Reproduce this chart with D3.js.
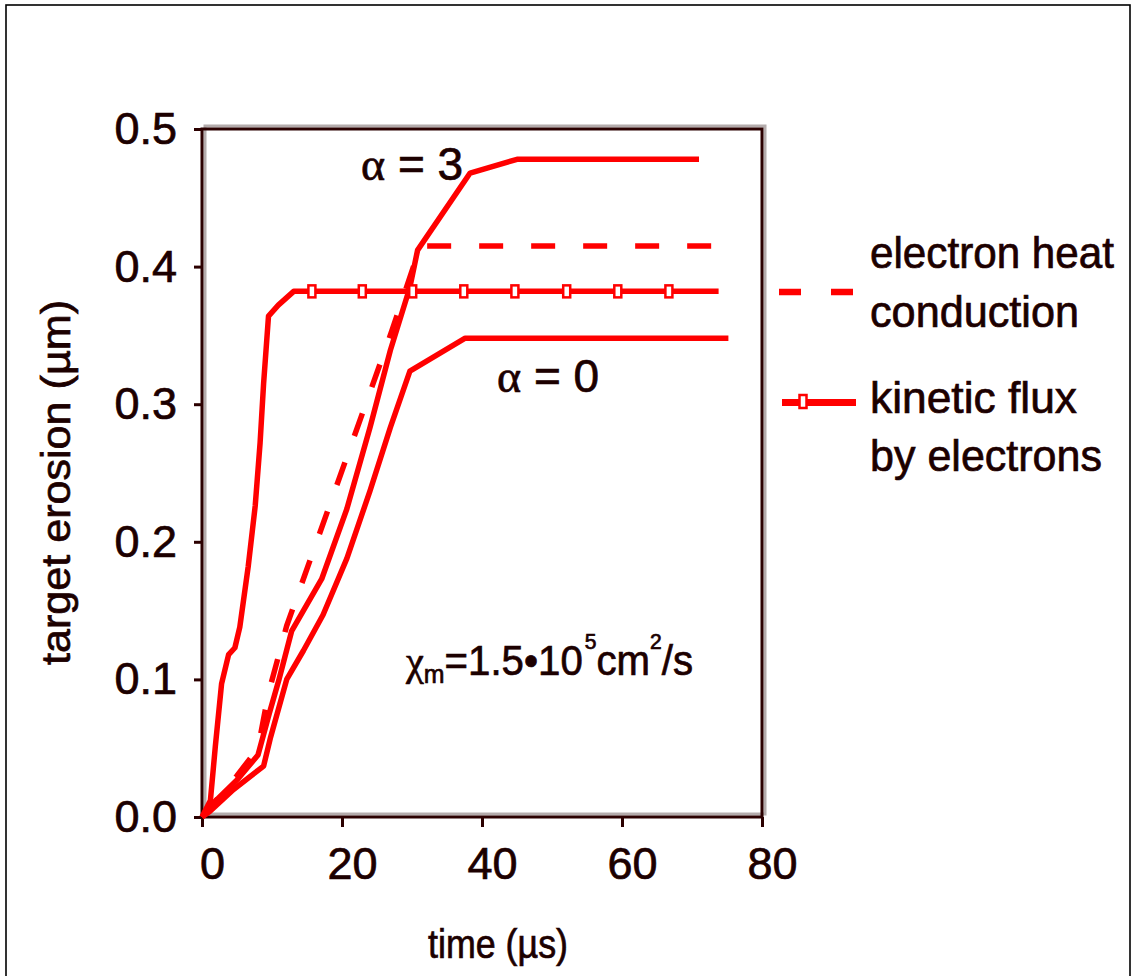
<!DOCTYPE html>
<html>
<head>
<meta charset="utf-8">
<script src="https://cdn.jsdelivr.net/npm/d3@7"></script>
<style>
  body { margin: 0; background: #fff; }
  svg { display: block; }
  text { stroke: #1c0000; stroke-width: 0.7px; }
</style>
</head>
<body>
<svg width="1134" height="976"></svg>
<script>
// Axis ticks
const timeTicks = [0, 20, 40, 60, 80];
const erosionTicks = [0, 0.1, 0.2, 0.3, 0.4, 0.5];

// Curves as [time (us), target erosion (um)]
const alpha3 = [[0, 0], [2, 0.012], [5, 0.027], [8, 0.045], [9.6, 0.075], [11, 0.1], [12.8, 0.135],
                [17.1, 0.173], [20.7, 0.224], [24, 0.283], [26.9, 0.339], [29.7, 0.385], [30.8, 0.412],
                [38.3, 0.468], [45, 0.478], [71, 0.478]];
const alpha0 = [[0, 0], [1.1, 0.004], [4.5, 0.02], [8.8, 0.037], [9.8, 0.058], [12.1, 0.1], [14.5, 0.121],
                [17.3, 0.147], [20.7, 0.188], [24, 0.237], [26.9, 0.283], [29.7, 0.324], [37.6, 0.348],
                [75.2, 0.348]];
const heatConduction = [[0, 0], [2, 0.012], [5, 0.03], [8, 0.05], [9.5, 0.09], [12.1, 0.139], [27.1, 0.353],
                        [31.2, 0.415], [74.7, 0.415]];
const kineticFlux = [[0, 0], [1.2, 0.012], [1.9, 0.051], [2.8, 0.097], [3.8, 0.118], [4.7, 0.123], [5.4, 0.138],
                     [6.6, 0.182], [7.6, 0.226], [8.3, 0.272], [8.8, 0.315], [9.5, 0.364], [10.9, 0.372],
                     [13.1, 0.382], [15.7, 0.382], [22.9, 0.382], [30.1, 0.382], [37.4, 0.382], [44.7, 0.382],
                     [52.1, 0.382], [59.4, 0.382], [66.7, 0.382], [73.8, 0.382]];

// SVG plotting related variables.
const svg = d3.select("svg");
const width = +svg.attr("width");
const height = +svg.attr("height");
const margin = { top: 129, right: 372, bottom: 159, left: 202 };
const plotWidth = width - margin.left - margin.right;
const plotHeight = height - margin.top - margin.bottom;

const red = "#ff0000";
const dark = "#2b0000";
const ink = "#1c0000";
const sans = "'Liberation Sans', Arial, sans-serif";
const serif = "'Liberation Serif', 'Times New Roman', serif";

svg.append("rect").attr("width", width).attr("height", height).attr("fill", "#fff");

// Outer picture border
svg.append("rect")
   .attr("x", 6).attr("y", 5)
   .attr("width", 1124).attr("height", 1000)
   .attr("fill", "none")
   .attr("stroke", "#000")
   .attr("stroke-width", 1.6);

const g = svg.append("g").attr("transform", `translate(${margin.left},${margin.top})`);

// Scales
const xScale = d3.scaleLinear().domain([0, 80]).range([0, plotWidth]);
const yScale = d3.scaleLinear().domain([0, 0.5]).range([plotHeight, 0]);

// Plot frame with its grey shadow
g.append("rect")
 .attr("x", 3).attr("y", -3)
 .attr("width", plotWidth).attr("height", plotHeight)
 .attr("fill", "none")
 .attr("stroke", "#b4acac")
 .attr("stroke-width", 3);
g.append("rect")
 .attr("width", plotWidth).attr("height", plotHeight)
 .attr("fill", "none")
 .attr("stroke", dark)
 .attr("stroke-width", 3);

// X Axis
const xAxis = g.append("g")
               .attr("transform", `translate(0, ${plotHeight})`)
               .call(d3.axisBottom(xScale).tickValues(timeTicks).tickSizeInner(10).tickSizeOuter(0).tickPadding(20)
                       .tickFormat(d3.format("d")));
xAxis.select(".domain").remove();
xAxis.selectAll("line").attr("stroke", dark).attr("stroke-width", 3);
xAxis.selectAll("text")
     .attr("x", 10)
     .style("font-size", "45px")
     .style("font-family", sans)
     .attr("fill", ink);

// Y Axis
const yAxis = g.append("g")
               .call(d3.axisLeft(yScale).tickValues(erosionTicks).tickSizeInner(8).tickSizeOuter(0).tickPadding(17)
                       .tickFormat(d3.format(".1f")));
yAxis.select(".domain").remove();
yAxis.selectAll("line").attr("stroke", dark).attr("stroke-width", 3);
yAxis.selectAll("text")
     .style("font-size", "45px")
     .style("font-family", sans)
     .attr("fill", ink);

// Axis titles
svg.append("text")
   .attr("x", 428).attr("y", 958)
   .attr("textLength", 140).attr("lengthAdjust", "spacingAndGlyphs")
   .style("font-size", "40px").style("font-family", sans).attr("fill", ink)
   .text("time (\u00b5s)");

svg.append("text")
   .attr("transform", "translate(70, 665) rotate(-90)")
   .attr("textLength", 365).attr("lengthAdjust", "spacingAndGlyphs")
   .style("font-size", "40px").style("font-family", sans).attr("fill", ink)
   .text("target erosion (\u00b5m)");

// Curves
const line = d3.line().x(d => xScale(d[0])).y(d => yScale(d[1]));

const curves = [
    { data: alpha0, dash: null },
    { data: alpha3, dash: null },
    { data: heatConduction, dash: "24,28" },
    { data: kineticFlux, dash: null }
];

g.selectAll(".curve")
 .data(curves)
 .enter()
 .append("path")
 .attr("class", "curve")
 .attr("d", d => line(d.data))
 .attr("fill", "none")
 .attr("stroke", red)
 .attr("stroke-width", 5.5)
 .attr("stroke-linejoin", "round")
 .attr("stroke-dasharray", d => d.dash);

// Hollow square markers, visible on the flat part of the kinetic flux curve
g.selectAll(".marker")
 .data(kineticFlux.slice(0, -1).filter(d => d[0] > 14))
 .enter()
 .append("rect")
 .attr("class", "marker")
 .attr("x", d => xScale(d[0]) - 3.5)
 .attr("y", d => yScale(d[1]) - 6)
 .attr("width", 7).attr("height", 12)
 .attr("fill", "#fff")
 .attr("stroke", red)
 .attr("stroke-width", 2.5);

// Curve labels
function alphaLabel(x, y, val) {
    const t = svg.append("text")
                 .attr("x", x).attr("y", y)
                 .style("font-size", "46px").attr("fill", ink);
    t.append("tspan").style("font-family", serif).text("\u03b1");
    t.append("tspan").style("font-family", sans).text(" = " + val);
}
alphaLabel(361, 180, "3");
alphaLabel(497, 392, "0");

// Diffusion coefficient annotation
const note = svg.append("text")
                .attr("x", 406).attr("y", 675)
                .attr("textLength", 287).attr("lengthAdjust", "spacingAndGlyphs")
                .style("font-size", "42px").style("font-family", sans).attr("fill", ink);
note.append("tspan").style("font-family", serif).text("\u03c7");
note.append("tspan").attr("dy", 8).style("font-size", "26px").text("m");
note.append("tspan").attr("dy", -8).text("=1.5\u202210");
note.append("tspan").attr("dy", -26).attr("dx", 2).style("font-size", "22px").text("5");
note.append("tspan").attr("dy", 26).text("cm");
note.append("tspan").attr("dy", -26).style("font-size", "22px").text("2");
note.append("tspan").attr("dy", 26).text("/s");

// Legend
const legend = svg.append("g");

legend.append("line")
      .attr("x1", 779).attr("x2", 853)
      .attr("y1", 292).attr("y2", 292)
      .attr("stroke", red).attr("stroke-width", 6.5)
      .attr("stroke-dasharray", "22,30");

legend.append("line")
      .attr("x1", 782).attr("x2", 856)
      .attr("y1", 402.5).attr("y2", 402.5)
      .attr("stroke", red).attr("stroke-width", 7);
legend.append("rect")
      .attr("x", 799.5).attr("y", 395)
      .attr("width", 7).attr("height", 13)
      .attr("fill", "#fff").attr("stroke", red).attr("stroke-width", 2.5);

const legendText = [
    { text: "electron heat", y: 268, len: 244 },
    { text: "conduction", y: 327, len: 209 },
    { text: "kinetic flux", y: 413, len: 207 },
    { text: "by electrons", y: 471, len: 232 }
];
legend.selectAll(".legend-text")
      .data(legendText)
      .enter()
      .append("text")
      .attr("class", "legend-text")
      .attr("x", 870)
      .attr("y", d => d.y)
      .attr("textLength", d => d.len)
      .attr("lengthAdjust", "spacingAndGlyphs")
      .style("font-size", "44px")
      .style("font-family", sans)
      .attr("fill", ink)
      .text(d => d.text);
</script>
</body>
</html>
